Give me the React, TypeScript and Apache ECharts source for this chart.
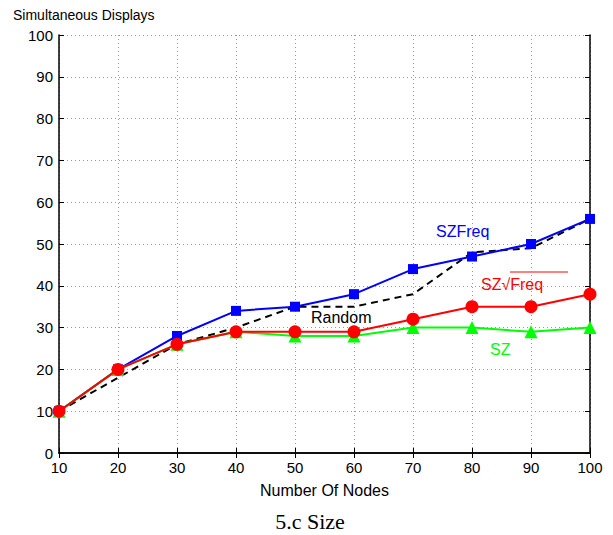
import React, { useEffect, useRef } from "react";
import * as echarts from "echarts";

const nodes = [10, 20, 30, 40, 50, 60, 70, 80, 90, 100];
const szFreq = [10, 20, 28, 34, 35, 38, 44, 47, 50, 56];
const randomVals = [10, 18, 26, 30, 35, 35, 38, 48, 49, 56];
const szSqrtFreq = [10, 20, 26, 29, 29, 29, 32, 35, 35, 38];
const sz = [10, 20, 26, 29, 28, 28, 30, 30, 29, 30];
const yTicks = [0, 10, 20, 30, 40, 50, 60, 70, 80, 90, 100];

const FONT = "Liberation Sans, Arial, sans-serif";

export default function App() {
  const ref = useRef<HTMLDivElement>(null);
  useEffect(() => {
    if (!ref.current) return;
    const chart = echarts.init(ref.current, undefined, { renderer: "svg" });
    const pair = (ys: number[]) => nodes.map((x, i) => [x, ys[i]]);
    const axisCommon = {
      type: "value" as const,
      min: 0,
      max: 100,
      interval: 10,
      axisLine: { show: true, lineStyle: { color: "#000", width: 1.5 } },
      axisTick: { show: true, inside: true, length: 5, lineStyle: { color: "#000" } },
    };
    chart.setOption({
      animation: false,
      backgroundColor: "#fff",
      grid: { left: 59, right: 23, top: 35, bottom: 82, show: false },
      xAxis: [
        {
          ...axisCommon,
          min: 10,
          max: 100,
          interval: 10,
          position: "bottom",
          name: "Number Of Nodes",
          nameLocation: "middle",
          nameGap: 29,
          nameTextStyle: { fontFamily: FONT, fontSize: 16, color: "#000" },
          axisLabel: { fontFamily: FONT, fontSize: 15, color: "#000", margin: 7 },
          splitLine: { show: true, lineStyle: { color: "#999", type: [1, 3], width: 1 } },
        },
        {
          ...axisCommon,
          min: 10,
          max: 100,
          interval: 10,
          position: "top",
          axisLabel: { show: false },
          splitLine: { show: false },
        },
      ],
      yAxis: [
        {
          ...axisCommon,
          position: "left",
          axisLabel: {
            fontFamily: FONT,
            fontSize: 15,
            color: "#000",
            margin: 6,
            formatter: (v: number) => (yTicks.includes(v) ? String(v) : ""),
          },
          splitLine: { show: true, lineStyle: { color: "#999", type: [1, 3], width: 1 } },
        },
        {
          ...axisCommon,
          position: "right",
          axisLabel: { show: false },
          splitLine: { show: false },
        },
      ],
      series: [
        {
          name: "Random",
          type: "line",
          data: pair(randomVals),
          showSymbol: false,
          symbol: "none",
          lineStyle: { color: "#000", width: 2, type: [7, 5] },
          z: 2,
        },
        {
          name: "SZFreq",
          type: "line",
          data: pair(szFreq),
          symbol: "rect",
          symbolSize: 10,
          itemStyle: { color: "#0000ff" },
          lineStyle: { color: "#0000ff", width: 2 },
          z: 3,
        },
        {
          name: "SZ",
          type: "line",
          data: pair(sz),
          symbol: "triangle",
          symbolSize: 13,
          itemStyle: { color: "#00ff00" },
          lineStyle: { color: "#00ff00", width: 2 },
          z: 4,
        },
        {
          name: "SZ√Freq",
          type: "line",
          data: pair(szSqrtFreq),
          symbol: "circle",
          symbolSize: 13,
          itemStyle: { color: "#ff0000" },
          lineStyle: { color: "#ff0000", width: 2 },
          z: 5,
        },
      ],
      graphic: [
        {
          type: "text",
          x: 13,
          y: 15,
          style: { text: "Simultaneous Displays", font: `14px ${FONT}`, fill: "#000", verticalAlign: "middle" },
        },
        {
          type: "text",
          x: 436,
          y: 231,
          style: { text: "SZFreq", font: `16px ${FONT}`, fill: "#0000ff", verticalAlign: "middle" },
        },
        {
          type: "text",
          x: 481,
          y: 284,
          style: { text: "SZ√Freq", font: `16px ${FONT}`, fill: "#ff0000", verticalAlign: "middle" },
        },
        {
          type: "line",
          shape: { x1: 510, y1: 272, x2: 568, y2: 272 },
          style: { stroke: "#ff0000", lineWidth: 1 },
        },
        {
          type: "text",
          x: 311,
          y: 317,
          style: { text: "Random", font: `16px ${FONT}`, fill: "#000", verticalAlign: "middle" },
        },
        {
          type: "text",
          x: 490,
          y: 349,
          style: { text: "SZ", font: `16px ${FONT}`, fill: "#00ff00", verticalAlign: "middle" },
        },
        {
          type: "text",
          x: 310,
          y: 521,
          style: {
            text: "5.c Size",
            font: `22px "Liberation Serif", "Times New Roman", serif`,
            fill: "#000",
            align: "center",
            verticalAlign: "middle",
          },
        },
      ],
    });
    return () => chart.dispose();
  }, []);
  return (
    <div
      ref={ref}
      style={{ position: "fixed", left: 0, top: 0, width: 613, height: 535, background: "#fff" }}
    />
  );
}
